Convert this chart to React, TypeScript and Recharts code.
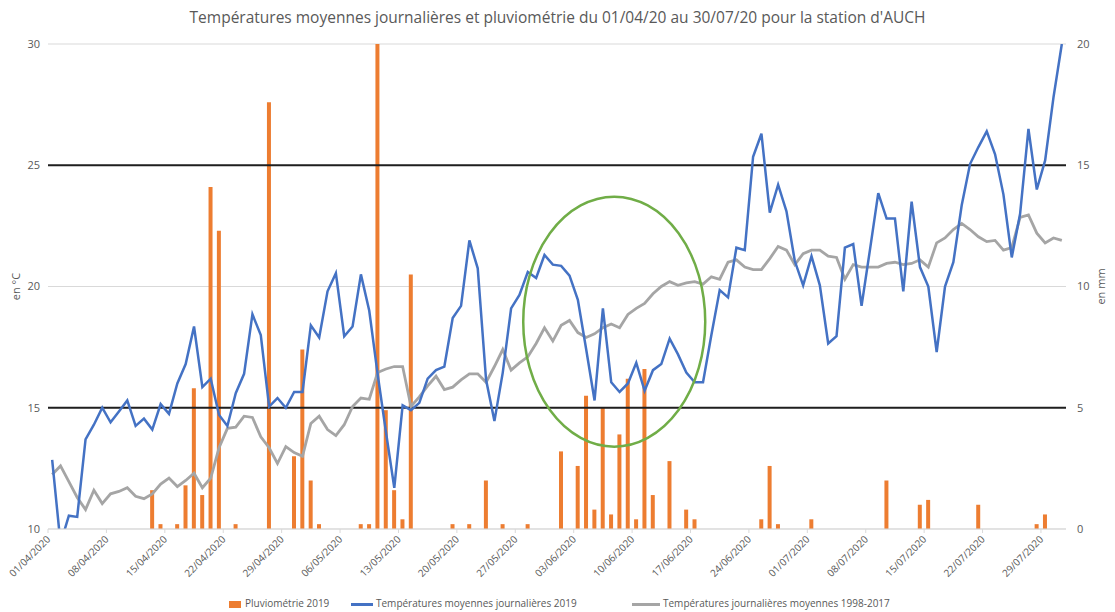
import React from 'react';
import {
  ComposedChart,
  Bar,
  Line,
  XAxis,
  YAxis,
  CartesianGrid,
  ReferenceLine,
  ReferenceDot,
  Legend,
  Label,
} from 'recharts';

// --- Data ---

const CHART_TITLE =
  "Températures moyennes journalières et pluviométrie du 01/04/20 au 30/07/20 pour la station d'AUCH";

// one category per day, 01/04/2020 -> 31/07/2020
const dates: string[] = Array.from({ length: 122 }, (_, i) => {
  const d = new Date(2020, 3, 1 + i);
  const dd = String(d.getDate()).padStart(2, '0');
  const mm = String(d.getMonth() + 1).padStart(2, '0');
  return `${dd}/${mm}/${d.getFullYear()}`;
});

// mm, one row per week
const pluvio2019 = [
  0, 0, 0, 0, 0, 0, 0,
  0, 0, 0, 0, 0, 1.6, 0.2,
  0, 0.2, 1.8, 5.8, 1.4, 14.1, 12.3,
  0, 0.2, 0, 0, 0, 17.6, 0,
  0, 3.0, 7.4, 2.0, 0.2, 0, 0,
  0, 0, 0.2, 0.2, 20, 4.9, 1.6,
  0.4, 10.5, 0, 0, 0, 0, 0.2,
  0, 0.2, 0, 2.0, 0, 0.2, 0,
  0, 0.2, 0, 0, 0, 3.2, 0,
  2.6, 5.5, 0.8, 5.0, 0.6, 3.9, 6.2,
  0.4, 6.6, 1.4, 0, 2.8, 0, 0.8,
  0.4, 0, 0, 0, 0, 0, 0,
  0, 0.4, 2.6, 0.2, 0, 0, 0,
  0.4, 0, 0, 0, 0, 0, 0,
  0, 0, 2.0, 0, 0, 0, 1.0,
  1.2, 0, 0, 0, 0, 0, 1.0,
  0, 0, 0, 0, 0, 0, 0.2,
  0.6, 0, 0,
];

// °C
const temp2019 = [
  12.85, 9.4, 10.55, 10.5, 13.7, 14.3, 15.0,
  14.4, 14.85, 15.3, 14.25, 14.55, 14.1, 15.15,
  14.75, 16.0, 16.8, 18.35, 15.85, 16.2, 14.7,
  14.25, 15.6, 16.4, 18.85, 18.0, 15.05, 15.4,
  15.0, 15.65, 15.65, 18.4, 17.9, 19.8, 20.55,
  17.95, 18.35, 20.5, 19.0, 16.4, 14.0, 11.7,
  15.1, 14.9, 15.2, 16.2, 16.55, 16.7, 18.7,
  19.2, 21.9, 20.75, 16.15, 14.45, 16.45, 19.1,
  19.65, 20.6, 20.35, 21.3, 20.9, 20.85, 20.45,
  19.45, 17.4, 15.3, 19.1, 16.05, 15.65, 16.0,
  16.85, 15.7, 16.55, 16.8, 17.85, 17.2, 16.45,
  16.05, 16.05, 18.0, 19.85, 19.55, 21.6, 21.5,
  25.35, 26.3, 23.05, 24.2, 23.1, 21.05, 20.05,
  21.25, 20.05, 17.65, 17.95, 21.6, 21.75, 19.2,
  21.5, 23.85, 22.8, 22.8, 19.8, 23.5, 20.8,
  20.0, 17.3, 20.0, 21.0, 23.35, 25.05, 25.75,
  26.4, 25.45, 23.8, 21.2, 23.0, 26.5, 24.0,
  25.2, 27.8, 30.0,
];

// °C
const temp1998_2017 = [
  12.25, 12.6, 11.95, 11.3, 10.8, 11.6, 11.05,
  11.45, 11.55, 11.7, 11.35, 11.25, 11.45, 11.85,
  12.1, 11.75, 12.0, 12.3, 11.7, 12.1, 13.35,
  14.15, 14.2, 14.65, 14.6, 13.8, 13.35, 12.7,
  13.4, 13.15, 13.0, 14.35, 14.65, 14.1, 13.85,
  14.3, 15.05, 15.4, 15.35, 16.45, 16.6, 16.7,
  16.7, 15.05, 15.45, 15.9, 16.3, 15.75, 15.85,
  16.15, 16.4, 16.4, 16.05, 16.7, 17.4, 16.55,
  16.85, 17.1, 17.65, 18.3, 17.75, 18.4, 18.6,
  18.1, 17.9, 18.05, 18.3, 18.45, 18.3, 18.85,
  19.1, 19.3, 19.7, 20.0, 20.2, 20.05, 20.15,
  20.2, 20.1, 20.4, 20.3, 21.0, 21.1, 20.8,
  20.7, 20.7, 21.15, 21.65, 21.5, 20.9, 21.35,
  21.5, 21.5, 21.25, 21.2, 20.3, 20.9, 20.8,
  20.8, 20.8, 20.95, 21.0, 20.9, 20.95, 21.1,
  20.8, 21.8, 22.0, 22.35, 22.6, 22.35, 22.05,
  21.85, 21.9, 21.5, 21.6, 22.85, 22.95, 22.2,
  21.8, 22.0, 21.9,
];

const tempTicks = [10, 15, 20, 25, 30];
const pluvioTicks = [0, 5, 10, 15, 20];
const seuils = [15, 25];

// circled period (centre of the green ellipse)
const circledDay = dates[67];
const circledTemp = 18.55;

const rows = dates.map((date, i) => ({
  date,
  pluvio: pluvio2019[i],
  t2019: temp2019[i],
  tNormale: temp1998_2017[i],
}));

// --- Styling ---

const W = 1115;
const H = 612;
const LEFT_AXIS_W = 48;
const RIGHT_AXIS_W = 49;
const BAND = (W - LEFT_AXIS_W - RIGHT_AXIS_W) / dates.length;
const FONT = '"Open Sans", "Liberation Sans", sans-serif';
const TEXT_GREY = '#595959';
const ORANGE = '#ED7D31';
const BLUE = '#4472C4';
const GREY = '#A5A5A5';
const GREEN = '#70AD47';

// Excel puts date ticks on the day boundary, so shift half a band left
const DateTick = ({ x, y, payload }: any) => {
  const tx = x - BAND / 2;
  const ax = tx + 3;
  const ay = y + 11;
  return (
    <g>
      <line x1={tx} x2={tx} y1={y} y2={y + 4} stroke="#d9d9d9" />
      <text
        x={ax}
        y={ay}
        transform={`rotate(-45 ${ax} ${ay})`}
        textAnchor="end"
        fontSize={10}
        fontFamily={FONT}
        fill={TEXT_GREY}
      >
        {payload.value}
      </text>
    </g>
  );
};

const AxisTitle = ({ viewBox, value, dx }: any) => {
  const cx = viewBox.x + dx;
  const cy = viewBox.y + viewBox.height / 2;
  return (
    <text
      x={cx}
      y={cy}
      transform={`rotate(-90 ${cx} ${cy})`}
      textAnchor="middle"
      dominantBaseline="central"
      fontSize={11}
      fontFamily={FONT}
      fill={TEXT_GREY}
    >
      {value}
    </text>
  );
};

const LegendRow = () => {
  const label = { position: 'absolute' as const, top: 8, fontSize: 10, color: TEXT_GREY, whiteSpace: 'nowrap' as const };
  return (
    <div style={{ position: 'relative', width: W, height: 24, fontFamily: FONT }}>
      <span style={{ position: 'absolute', left: 229, top: 13, width: 12, height: 7, background: ORANGE }} />
      <span style={{ ...label, left: 245 }}>Pluviométrie 2019</span>
      <span style={{ position: 'absolute', left: 351, top: 15, width: 22, height: 3, background: BLUE }} />
      <span style={{ ...label, left: 376 }}>Températures moyennes journalières 2019</span>
      <span style={{ position: 'absolute', left: 632, top: 15, width: 28, height: 3, background: GREY }} />
      <span style={{ ...label, left: 663 }}>Températures journalières moyennes 1998-2017</span>
    </div>
  );
};

const CircleShape = ({ cx, cy }: any) => (
  <ellipse cx={cx + 3} cy={cy} rx={91} ry={125} fill="none" stroke={GREEN} strokeWidth={2.5} />
);

const App: React.FC = () => {
  const tickStyle = { fontSize: 11, fontFamily: FONT, fill: TEXT_GREY };
  return (
    <div style={{ position: 'absolute', left: 0, top: 0, width: W, height: H, background: '#fff', fontFamily: FONT }}>
      <div
        style={{
          position: 'absolute',
          top: 6,
          left: 0,
          width: W,
          textAlign: 'center',
          fontSize: 15.5,
          color: TEXT_GREY,
          whiteSpace: 'nowrap',
        }}
      >
        {CHART_TITLE}
      </div>
      <ComposedChart
        width={W}
        height={H}
        data={rows}
        margin={{ top: 44, right: 0, bottom: 0, left: 0 }}
        barGap={0}
      >
        <CartesianGrid vertical={false} stroke="#d9d9d9" yAxisId="left" />
        <XAxis
          dataKey="date"
          interval={6}
          height={59}
          tickSize={0}
          tickMargin={0}
          tickLine={false}
          axisLine={{ stroke: '#d9d9d9' }}
          tick={<DateTick />}
        />
        <YAxis
          yAxisId="left"
          domain={[10, 30]}
          ticks={tempTicks}
          allowDataOverflow
          width={LEFT_AXIS_W}
          axisLine={false}
          tickLine={false}
          tick={tickStyle}
        >
          <Label content={<AxisTitle value="en °C" dx={15} />} />
        </YAxis>
        <YAxis
          yAxisId="right"
          orientation="right"
          domain={[0, 20]}
          ticks={pluvioTicks}
          allowDataOverflow
          width={RIGHT_AXIS_W}
          axisLine={false}
          tickLine={false}
          tickMargin={5}
          tick={tickStyle}
        >
          <Label content={<AxisTitle value="en mm" dx={34} />} />
        </YAxis>
        <Bar yAxisId="right" dataKey="pluvio" name="Pluviométrie 2019" fill={ORANGE} barSize={4} isAnimationActive={false} />
        {seuils.map((s) => (
          <ReferenceLine key={s} yAxisId="left" y={s} stroke="#1f1f1f" strokeWidth={2} />
        ))}
        <Line
          yAxisId="left"
          dataKey="tNormale"
          name="Températures journalières moyennes 1998-2017"
          stroke={GREY}
          strokeWidth={2.8}
          dot={false}
          activeDot={false}
          isAnimationActive={false}
        />
        <Line
          yAxisId="left"
          dataKey="t2019"
          name="Températures moyennes journalières 2019"
          stroke={BLUE}
          strokeWidth={2.5}
          dot={false}
          activeDot={false}
          isAnimationActive={false}
        />
        <ReferenceDot yAxisId="left" x={circledDay} y={circledTemp} shape={<CircleShape />} />
        <Legend verticalAlign="bottom" content={<LegendRow />} />
      </ComposedChart>
    </div>
  );
};

export default App;
